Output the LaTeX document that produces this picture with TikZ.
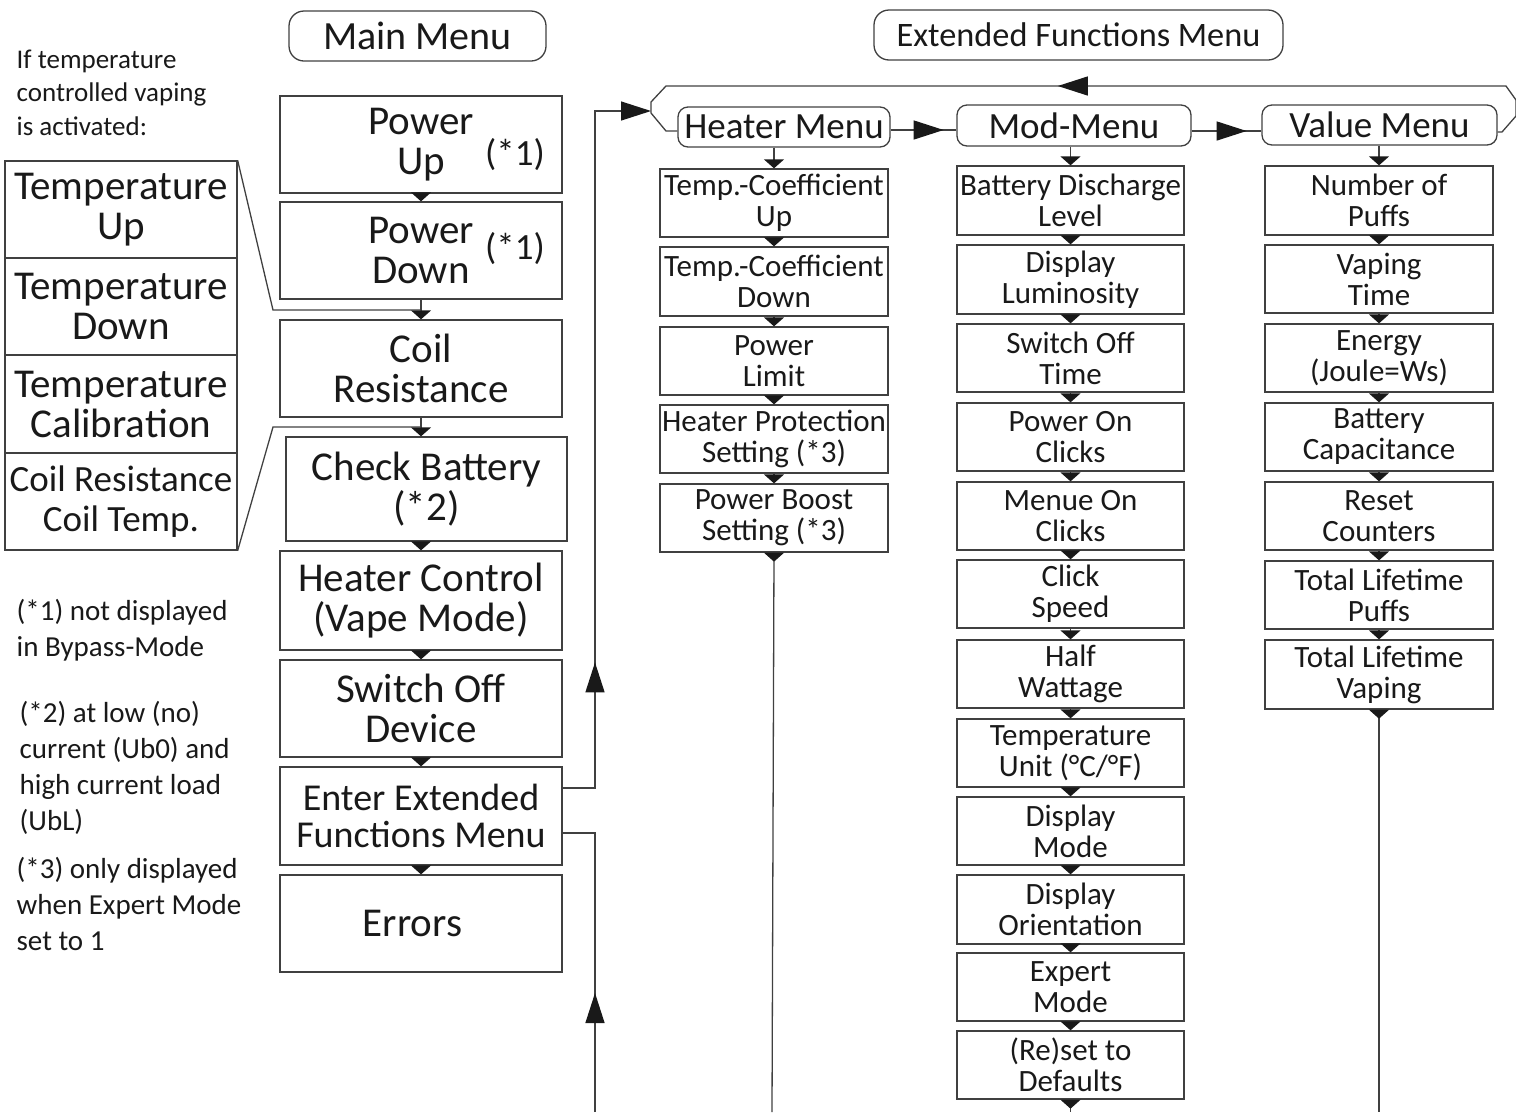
\documentclass[tikz,border=0pt]{standalone}
\usepackage{fontspec}
\setmainfont{Carlito}
\usetikzlibrary{arrows.meta,decorations.markings}
\begin{document}
\begin{tikzpicture}[x=1pt,y=-1pt,line width=1.3pt,
  lc/.style={draw=black!75},
  mbox/.style={lc,rectangle,inner sep=0pt,align=center,text=black!90,
    font=\fontsize{41}{39.5}\selectfont,minimum width=282pt,minimum height=97pt},
  lbox/.style={lc,rectangle,inner sep=0pt,align=center,text=black!90,
    font=\fontsize{41}{40}\selectfont,minimum width=232pt,minimum height=97pt},
  ebox/.style={lc,rectangle,inner sep=0pt,align=center,text=black!90,
    font=\fontsize{31}{31}\selectfont,minimum width=228pt,minimum height=68pt},
  hdr/.style={lc,rectangle,rounded corners=11pt,inner sep=0pt,align=center,text=black!90,
    font=\fontsize{37}{40}\selectfont},
  note/.style={anchor=north west,inner sep=0pt,align=left,text=black!90},
  conn/.style={lc,-{Triangle[width=20pt,length=9pt,fill=black!90,color=black!90]}},
  bigtip/.tip={Triangle[width=19pt,length=30pt,fill=black!90,color=black!90]},
  mk/.style={postaction={decorate},decoration={markings,mark=at position #1 with {\arrow{bigtip}}}}
]
\useasboundingbox (0,0) rectangle (1516,1112);

% ---------- headers ----------
\node[hdr,minimum width=257pt,minimum height=50pt,rounded corners=15pt,
      font=\fontsize{40}{42}\selectfont] (mm) at (417.5,36) {Main Menu};
\node[hdr,minimum width=409pt,minimum height=50pt,rounded corners=15pt,
      font=\fontsize{34.3}{36}\selectfont] (ef) at (1078.5,35) {Extended Functions Menu};

% ---------- left notes ----------
\node[note,font=\fontsize{27}{33.5}\selectfont] (n0) at (16,49) {If temperature\\controlled vaping\\is activated:};
\node[note,font=\fontsize{29}{36}\selectfont] (n1) at (16,599) {(*1) not displayed\\in Bypass-Mode};
\node[note,font=\fontsize{29}{36}\selectfont] (n2) at (19,701) {(*2) at low (no)\\current (Ub0) and\\high current load\\(UbL)};
\node[note,font=\fontsize{29}{36}\selectfont] (n3) at (16,857) {(*3) only displayed\\when Expert Mode\\set to 1};

% ---------- left boxes ----------
\node[lbox] (lt1) at (121,209.5) {Temperature\\Up};
\node[lbox] (lt2) at (121,306.5) {Temperature\\Down};
\node[lbox,minimum height=98pt] (lt3) at (121,404) {Temperature\\Calibration};
\node[lbox,font=\fontsize{37}{40}\selectfont] (lt4) at (121,501.5) {Coil Resistance\\Coil Temp.};

% ---------- main column ----------
\node[mbox] (pu) at (421,144.5) {Power\\Up};
\node[inner sep=0pt,text=black!90,font=\fontsize{37}{40}\selectfont] (pu1) at (515,155) {(*1)};
\node[mbox] (pd) at (421,250.5) {Power\\Down};
\node[inner sep=0pt,text=black!90,font=\fontsize{37}{40}\selectfont] (pd1) at (515,249) {(*1)};
\node[mbox] (co) at (421,368.5) {Coil\\Resistance};
\node[mbox,minimum width=281pt,minimum height=104pt] (cb) at (426.5,489) {Check Battery\\(*2)};
\node[mbox,minimum height=99pt] (hc) at (421,600.5) {Heater Control\\(Vape Mode)};
\node[mbox] (so) at (421,708.5) {Switch Off\\Device};
\node[mbox,minimum height=98pt,font=\fontsize{38}{37}\selectfont] (ee) at (421,816) {Enter Extended\\Functions Menu};
\node[mbox] (er) at (421,923.5) {Errors\hspace*{17pt}};

\coordinate (j1) at (421,310);
\coordinate (j2) at (421,427);
\coordinate (k1) at (273,310);
\coordinate (k2) at (273,427);

\draw[conn] (pu.south) -- (pd.north);
\draw[lc] (pd.south) -- (j1);
\draw[conn] (j1) -- (co.north);
\draw[lc] (co.south) -- (j2);
\draw[conn] (j2) -- (j2 |- cb.north);
\draw[conn] (hc.south |- cb.south) -- (hc.north);
\draw[conn] (hc.south) -- (so.north);
\draw[conn] (so.south) -- (ee.north);
\draw[conn] (ee.south) -- (er.north);

\draw[lc] (lt1.north east) -- (k1) -- (j1);
\draw[lc] (lt4.south east) -- (k2) -- (j2);

% ---------- extended sub headers ----------
\node[hdr,minimum width=212pt,minimum height=40pt,rounded corners=10pt] (hh) at (784,127) {Heater Menu};
\node[hdr,minimum width=234pt,minimum height=41pt,rounded corners=10pt] (hm) at (1074,125.5) {Mod-Menu};
\node[hdr,minimum width=235pt,minimum height=40pt,rounded corners=10pt] (hv) at (1379.5,125) {Value Menu};

% ---------- heater column ----------
\node[ebox] (h1) at (774,203) {Temp.-Coefficient\\Up};
\node[ebox,minimum height=69pt] (h2) at (774,281.5) {Temp.-Coefficient\\Down};
\node[ebox] (h3) at (774,361) {Power\\Limit};
\node[ebox] (h4) at (774,439) {Heater Protection\\Setting (*3)};
\node[ebox] (h5) at (774,518) {Power Boost\\Setting (*3)};

% ---------- mod column ----------
\node[ebox,minimum width=227pt,minimum height=69pt] (m1) at (1070.5,200.5) {Battery Discharge\\Level};
\node[ebox,minimum width=227pt,minimum height=69pt] (m2) at (1070.5,279.5) {Display\\Luminosity};
\node[ebox,minimum width=227pt] (m3) at (1070.5,358) {Switch Off\\Time};
\node[ebox,minimum width=227pt] (m4) at (1070.5,437) {Power On\\Clicks};
\node[ebox,minimum width=227pt] (m5) at (1070.5,516) {Menue On\\Clicks};
\node[ebox,minimum width=227pt] (m6) at (1070.5,594) {Click\\Speed};
\node[ebox,minimum width=227pt] (m7) at (1070.5,674) {Half\\Wattage};
\node[ebox,minimum width=227pt] (m8) at (1070.5,753) {Temperature\\Unit (°C/°F)};
\node[ebox,minimum width=227pt] (m9) at (1070.5,831) {Display\\Mode};
\node[ebox,minimum width=227pt,minimum height=69pt] (m10) at (1070.5,909.5) {Display\\Orientation};
\node[ebox,minimum width=227pt] (m11) at (1070.5,987) {Expert\\Mode};
\node[ebox,minimum width=227pt] (m12) at (1070.5,1065) {(Re)set to\\Defaults};

% ---------- value column ----------
\node[ebox,minimum height=69pt] (v1) at (1379,200.5) {Number of\\Puffs};
\node[ebox] (v2) at (1379,279) {Vaping\\Time};
\node[ebox] (v3) at (1379,358) {Energy\\(Joule=Ws)};
\node[ebox] (v4) at (1379,437) {Battery\\Capacitance};
\node[ebox] (v5) at (1379,516) {Reset\\Counters};
\node[ebox] (v6) at (1379,595) {Total Lifetime\\Puffs};
\node[ebox,minimum height=69pt] (v7) at (1379,674.5) {Total Lifetime\\Vaping};

% ---------- column connectors ----------
\draw[conn] (h1.north |- hh.south) -- (h1.north);
\foreach \a/\b in {h1/h2,h2/h3,h3/h4,h4/h5}{\draw[conn] (\a.south) -- (\b.north);}
\draw[conn] (m1.north |- hm.south) -- (m1.north);
\foreach \a/\b in {m1/m2,m2/m3,m3/m4,m4/m5,m5/m6,m6/m7,m7/m8,m8/m9,m9/m10,m10/m11,m11/m12}{\draw[conn] (\a.south) -- (\b.north);}
\draw[conn] (v1.north |- hv.south) -- (v1.north);
\foreach \a/\b in {v1/v2,v2/v3,v3/v4,v4/v5,v5/v6,v6/v7}{\draw[conn] (\a.south) -- (\b.north);}

\coordinate (bh) at (772,1112);
\coordinate (bm) at (1070.5,1112);
\coordinate (bv) at (1379,1112);
\coordinate (b0) at (595,1112);
\draw[lc] (h5.south) -- (bh);
\draw[conn] (h5.south) -- ++(0,9);
\draw[lc] (m12.south) -- (bm);
\draw[conn] (m12.south) -- ++(0,9);
\draw[lc] (v7.south) -- (bv);
\draw[conn] (v7.south) -- ++(0,9);

% ---------- header arrows and loop frame ----------
\draw[lc,mk=53pt] (hh.east |- 0,130) -- (hm.west |- 0,130);
\draw[lc,mk=55pt] (hm.east |- 0,131) -- (hv.west |- 0,131);

\coordinate (fa) at (651,111);
\draw[lc,mk=507pt] (hv.east |- 0,132) -- (1502,132) -- (1516,116) -- (1516,100) -- (1506,86)
   -- (666,86) -- (651,102) -- (fa) -- (651,113) -- (666,131) -- (hh.west |- 0,131);

% ---------- links from Enter Extended Functions Menu ----------
\draw[lc,mk=158pt,-{bigtip}] ([yshift=28pt]ee.east) -- (595,788) -- (595,111) -- (fa);
\draw[lc,mk=119pt] (b0) -- (595,833) -- ([yshift=-17pt]ee.east);
\end{tikzpicture}
\end{document}
